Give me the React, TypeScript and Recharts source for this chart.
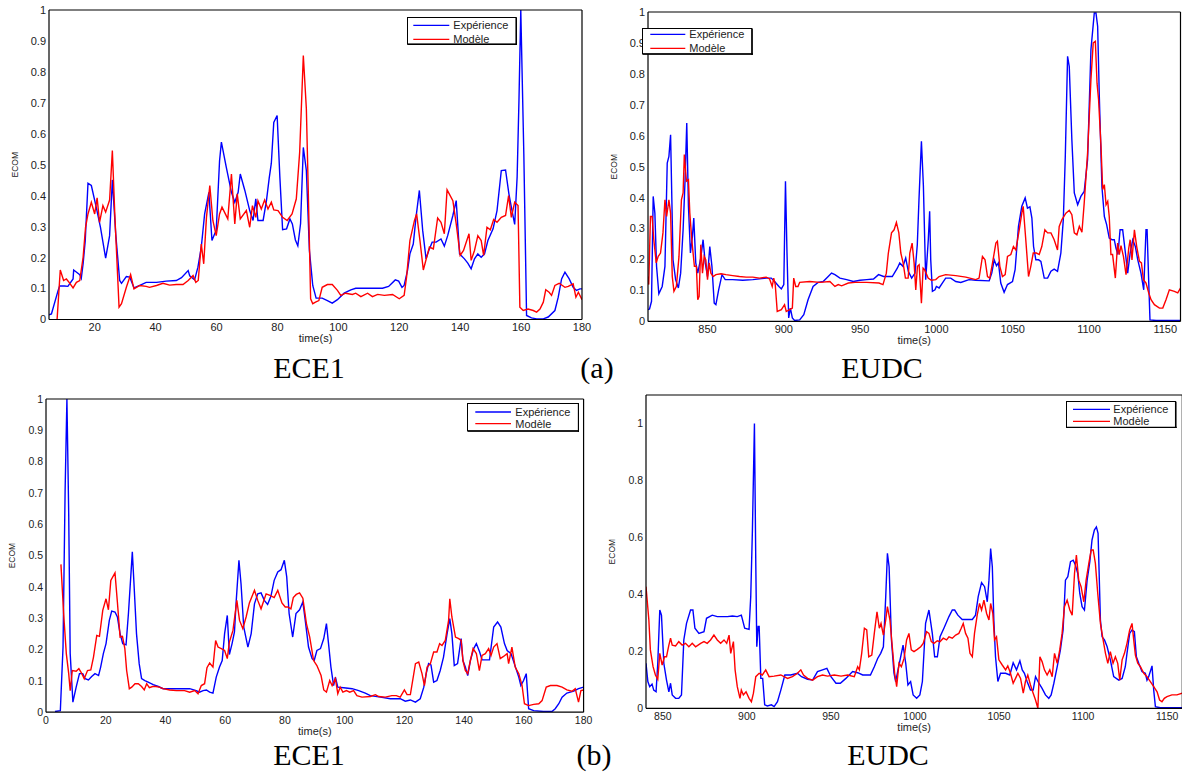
import React from 'react';
import { LineChart, Line, XAxis, YAxis, Legend, Label } from 'recharts';

type Pt = [number, number];

// ---------- (a) ECE1 ----------
const ece1aExp: Pt[] = [[5,0.015],[5.8,0.018],[8,0.094],[8.5,0.108],[10.1,0.108],[11.2,0.107],[12.9,0.131],[13.1,0.16],[15.1,0.145],[15.6,0.133],[16.2,0.18],[16.9,0.255],[17.8,0.44],[18.9,0.433],[20.5,0.363],[21.9,0.298],[23.6,0.198],[24.9,0.271],[25.8,0.451],[26.9,0.277],[28.2,0.126],[28.8,0.117],[30.4,0.139],[31.5,0.137],[32.9,0.102],[34.8,0.11],[36.9,0.12],[40.3,0.12],[43.5,0.124],[46.8,0.126],[48.5,0.135],[50.7,0.158],[51.2,0.141],[52.8,0.128],[53.9,0.169],[55,0.234],[56.1,0.341],[57.5,0.411],[58.5,0.255],[59.4,0.277],[59.9,0.287],[61,0.513],[61.6,0.573],[63.2,0.492],[64.9,0.411],[66,0.379],[67.1,0.411],[67.8,0.47],[69.3,0.417],[70.9,0.352],[72,0.32],[72.9,0.39],[73.6,0.32],[75.3,0.32],[76.4,0.384],[77.3,0.457],[78,0.505],[78.8,0.637],[79.9,0.659],[80.8,0.46],[81.7,0.29],[83,0.293],[84.1,0.325],[84.9,0.309],[85.9,0.257],[86.7,0.238],[87.6,0.31],[88.5,0.556],[89.5,0.481],[90.5,0.223],[91.6,0.11],[92.7,0.069],[94.7,0.069],[96.4,0.061],[98,0.053],[99.7,0.064],[101.9,0.085],[104.1,0.096],[105.7,0.101],[114.5,0.101],[116.5,0.107],[118.7,0.128],[119.8,0.124],[120.9,0.104],[121.6,0.11],[122.7,0.158],[123.5,0.212],[124.6,0.244],[125.5,0.33],[126.6,0.417],[127.7,0.287],[128.8,0.196],[129.7,0.223],[130.8,0.25],[132.1,0.25],[133.7,0.26],[134.8,0.237],[135.9,0.271],[137.6,0.336],[138.7,0.384],[139.8,0.212],[141.4,0.196],[142.5,0.182],[143.6,0.164],[144.7,0.196],[145.8,0.212],[146.9,0.201],[148,0.212],[149.1,0.255],[150.8,0.293],[152.1,0.352],[153.5,0.481],[154.9,0.483],[156,0.406],[156.8,0.363],[157.9,0.307],[158.7,0.46],[159.3,0.707],[159.9,1.0],[160.9,0.535],[161.8,0.013],[163.4,0.005],[165.1,0.002],[167.3,0.002],[168.9,0.008],[171.1,0.029],[172.2,0.072],[173.3,0.131],[174.4,0.153],[175.8,0.131],[177.1,0.104],[178.2,0.094],[179.3,0.099],[180,0.099]];
const ece1aMod: Pt[] = [[7,-0.1],[8.7,0.16],[9.8,0.126],[10.7,0.131],[11.6,0.12],[12.9,0.102],[14,0.12],[15.1,0.126],[16.2,0.201],[17,0.298],[17.8,0.341],[18.9,0.379],[20,0.341],[20.8,0.393],[21.6,0.314],[22.7,0.368],[23.6,0.347],[24.9,0.386],[25.8,0.546],[26.6,0.341],[27.3,0.191],[28,0.04],[28.8,0.051],[30.4,0.104],[31.8,0.145],[32.9,0.099],[34.8,0.11],[36.9,0.107],[38,0.104],[40.3,0.11],[42.4,0.117],[44.6,0.111],[46.8,0.113],[49,0.113],[50.7,0.126],[52.3,0.142],[53.2,0.12],[54,0.126],[55,0.244],[55.8,0.18],[56.7,0.33],[57.8,0.433],[58.8,0.32],[59.9,0.271],[61,0.341],[61.8,0.363],[63.7,0.325],[64.9,0.47],[66,0.309],[66.8,0.406],[67.8,0.325],[69.8,0.352],[70.9,0.298],[71.8,0.368],[72.9,0.33],[73.6,0.384],[74.7,0.357],[75.8,0.386],[76.9,0.357],[78,0.379],[78.8,0.354],[80.2,0.352],[81.7,0.33],[83.2,0.32],[84.8,0.341],[86.2,0.39],[87.3,0.54],[88.5,0.853],[89.5,0.68],[90.1,0.427],[90.9,0.067],[91.6,0.051],[92.5,0.056],[93.6,0.061],[94.7,0.104],[96.4,0.113],[98,0.113],[99.7,0.094],[100.8,0.078],[102.4,0.085],[104.6,0.081],[105.7,0.085],[107.4,0.074],[109.6,0.085],[111.2,0.074],[112.9,0.081],[115.1,0.078],[117.8,0.081],[120,0.067],[121.6,0.078],[122.4,0.137],[123.5,0.255],[125,0.32],[125.7,0.341],[126.8,0.255],[127.9,0.16],[129,0.201],[129.9,0.234],[131.2,0.228],[132.6,0.328],[133.7,0.314],[134.8,0.277],[135.7,0.419],[137.6,0.384],[138.7,0.309],[140,0.207],[141.1,0.223],[142.9,0.277],[143.6,0.191],[144.7,0.223],[145.8,0.271],[146.9,0.255],[147.7,0.207],[148.8,0.298],[149.9,0.29],[151,0.323],[152.1,0.314],[153.5,0.33],[154.9,0.336],[155.9,0.4],[156.8,0.33],[157.9,0.379],[159,0.368],[159.6,0.04],[160.7,0.029],[162.3,0.034],[164,0.029],[165.1,0.024],[166.2,0.034],[167.3,0.056],[168.1,0.096],[169.2,0.088],[170,0.078],[171.1,0.11],[172.5,0.117],[174.4,0.104],[175.5,0.107],[177.1,0.115],[178,0.072],[178.8,0.088],[180,0.064]];

// ---------- (a) EUDC ----------
const eudcaExp: Pt[] = [[811,0.038],[812,0.04],[813.3,0.065],[814.4,0.404],[815.5,0.35],[816.6,0.178],[818.1,0.089],[820.3,0.113],[822.1,0.178],[823.6,0.512],[824.7,0.533],[825.8,0.603],[827.4,0.199],[829.1,0.135],[830.9,0.108],[832.4,0.156],[834,0.296],[835.3,0.458],[836.4,0.641],[837.5,0.372],[838.8,0.221],[840.1,0.275],[841,0.334],[842.3,0.189],[843.6,0.156],[845.6,0.205],[847.1,0.264],[848.5,0.189],[850,0.145],[851.5,0.242],[852.9,0.178],[854.4,0.059],[855.5,0.054],[857.3,0.102],[859.5,0.151],[861.6,0.135],[866.5,0.135],[873.1,0.133],[879.7,0.135],[888.5,0.14],[891.8,0.14],[894,0.129],[896.8,0.113],[898.4,0.105],[900,0.119],[901.1,0.453],[902.1,0.221],[903.2,0.011],[904.3,0.043],[905.6,0.011],[907.1,0.003],[910.4,0.005],[913.1,0.022],[915.9,0.07],[919.2,0.113],[922.5,0.126],[925.8,0.129],[929.1,0.145],[931.3,0.156],[933.5,0.151],[936.8,0.14],[941.2,0.135],[945.6,0.129],[950,0.133],[954.4,0.135],[958.8,0.137],[962.1,0.151],[965.4,0.145],[971.1,0.145],[974.4,0.172],[976,0.189],[978.1,0.178],[979.9,0.205],[981.6,0.162],[983.8,0.14],[986,0.156],[987.5,0.248],[988.6,0.393],[990.2,0.582],[991.5,0.437],[993,0.135],[994.7,0.264],[995.6,0.356],[996.3,0.199],[997.4,0.097],[999.1,0.102],[1000,0.113],[1001.8,0.108],[1003.9,0.124],[1006.1,0.14],[1009.4,0.14],[1012.7,0.129],[1016,0.126],[1021.4,0.135],[1025.8,0.133],[1034.6,0.131],[1036.3,0.156],[1037.9,0.199],[1039.4,0.18],[1040.7,0.189],[1042.2,0.124],[1044.4,0.094],[1046.6,0.119],[1049.9,0.129],[1051.6,0.167],[1053.8,0.307],[1056,0.372],[1058.2,0.399],[1059.7,0.366],[1061.3,0.37],[1062.6,0.334],[1063.7,0.242],[1065.2,0.199],[1067,0.199],[1068.5,0.194],[1070.7,0.14],[1072.9,0.14],[1075.1,0.162],[1077.2,0.169],[1079.4,0.162],[1081.6,0.221],[1083.2,0.329],[1084.5,0.533],[1086,0.857],[1087.1,0.824],[1088.8,0.587],[1090.4,0.415],[1092.6,0.377],[1094.7,0.404],[1096.9,0.42],[1099.1,0.523],[1101.3,0.878],[1103.5,0.997],[1104.6,0.997],[1105.7,0.954],[1106.8,0.727],[1108.5,0.436],[1110.1,0.339],[1111.6,0.313],[1113.3,0.269],[1115.1,0.264],[1116.6,0.264],[1117.7,0.237],[1119,0.216],[1120.4,0.296],[1122.1,0.296],[1123.9,0.221],[1125.4,0.156],[1127,0.221],[1128.7,0.264],[1130.4,0.242],[1132,0.199],[1134.1,0.156],[1135.9,0.102],[1137.4,0.296],[1138.1,0.296],[1139.2,0.124],[1140,0.005],[1144,0.003],[1160,0.003]];
const eudcaMod: Pt[] = [[811,0.145],[811.5,0.119],[812.6,0.339],[813.7,0.339],[814.8,0.264],[816.4,0.189],[817.7,0.21],[819.2,0.221],[820.8,0.286],[822.1,0.393],[823.2,0.339],[824.7,0.393],[825.8,0.35],[826.9,0.145],[828,0.097],[829.6,0.113],[831.3,0.21],[832.9,0.393],[834,0.415],[834.8,0.539],[836.2,0.453],[837.5,0.458],[838.4,0.35],[839.7,0.264],[841.4,0.178],[842.7,0.178],[843.6,0.07],[844.5,0.081],[845.6,0.248],[846.7,0.156],[847.8,0.21],[848.9,0.199],[850,0.135],[851.1,0.189],[852.2,0.156],[853.7,0.145],[855.5,0.151],[858.8,0.154],[862.1,0.151],[866.5,0.148],[870.9,0.145],[875.3,0.143],[879.7,0.143],[884.1,0.14],[888.5,0.143],[890.7,0.137],[892.4,0.113],[893.4,0.14],[894.4,0.119],[895.7,0.032],[898.4,0.038],[900.5,0.054],[901.6,0.032],[903.8,0.038],[905.6,0.043],[906.5,0.14],[907.8,0.113],[909.3,0.113],[910.4,0.126],[917,0.129],[923.6,0.126],[930.2,0.129],[933.5,0.113],[935.7,0.119],[937.9,0.115],[942.3,0.124],[946.7,0.126],[954.4,0.126],[962.4,0.124],[965,0.119],[967.2,0.156],[968.5,0.22],[970.6,0.286],[972.3,0.296],[973.8,0.32],[975.4,0.286],[976.7,0.221],[978.2,0.189],[979.7,0.14],[981.5,0.14],[982.6,0.221],[984.1,0.253],[985.4,0.189],[986.5,0.102],[987.6,0.178],[988.7,0.183],[990.2,0.059],[991.3,0.172],[992.3,0.167],[994.6,0.14],[996.7,0.133],[999.6,0.135],[1001.8,0.145],[1006.1,0.151],[1012.7,0.148],[1019.3,0.143],[1025.8,0.135],[1028,0.14],[1030.2,0.21],[1031.9,0.199],[1033.5,0.145],[1035,0.14],[1036.8,0.189],[1039,0.253],[1040,0.259],[1041.6,0.178],[1043.3,0.145],[1045.1,0.151],[1046.6,0.21],[1048.8,0.216],[1050.5,0.242],[1052.1,0.231],[1054.3,0.296],[1056,0.35],[1056.9,0.372],[1058.6,0.264],[1060.4,0.145],[1061.9,0.178],[1063.5,0.221],[1065.6,0.221],[1067.4,0.216],[1069.1,0.242],[1071.1,0.296],[1072.9,0.286],[1075.1,0.286],[1077.2,0.264],[1079.4,0.231],[1080.5,0.307],[1082.3,0.329],[1084.9,0.35],[1087.1,0.359],[1088.8,0.345],[1090.4,0.286],[1092.1,0.28],[1093.7,0.307],[1095.4,0.288],[1096.9,0.383],[1099.1,0.544],[1101.3,0.781],[1102.8,0.9],[1104.2,0.905],[1105.3,0.77],[1106.3,0.717],[1107.9,0.566],[1109,0.426],[1110.1,0.442],[1111.2,0.377],[1112.3,0.388],[1113.3,0.339],[1114.4,0.216],[1115.5,0.216],[1117.3,0.14],[1118.8,0.253],[1119.9,0.216],[1121,0.245],[1122.6,0.21],[1124.3,0.151],[1126.1,0.237],[1127,0.264],[1128.2,0.199],[1129.8,0.296],[1131.3,0.242],[1133.1,0.194],[1134.4,0.189],[1135.7,0.135],[1137.4,0.124],[1139.2,0.092],[1140.7,0.07],[1142.9,0.054],[1146.2,0.043],[1148.4,0.043],[1150.5,0.07],[1152.7,0.102],[1156,0.097],[1158.2,0.092],[1160,0.108]];

// ---------- (b) ECE1 ----------
const ece1bExp: Pt[] = [[3,0.002],[4.8,0.005],[5.7,0.208],[6.4,0.709],[7,1.0],[7.6,0.634],[8.1,0.187],[9,0.032],[10.1,0.08],[11.2,0.123],[12.3,0.123],[13.1,0.107],[14.2,0.103],[15.3,0.114],[16.4,0.123],[17.6,0.117],[18.3,0.144],[19.2,0.187],[20.1,0.219],[21.2,0.293],[22,0.323],[23.1,0.32],[23.9,0.304],[24.8,0.251],[25.7,0.219],[26.8,0.215],[27.6,0.315],[28.3,0.421],[28.9,0.512],[29.4,0.421],[30.3,0.251],[31.2,0.155],[32,0.107],[33.1,0.101],[34.2,0.096],[35.9,0.088],[37.6,0.082],[39.2,0.075],[41.4,0.075],[44.8,0.075],[48.1,0.075],[50.3,0.069],[51.4,0.064],[52.6,0.069],[53.7,0.071],[54.8,0.064],[55.9,0.061],[57,0.112],[58.1,0.144],[59,0.165],[59.8,0.251],[60.7,0.309],[61.4,0.184],[62.3,0.219],[63.1,0.256],[63.7,0.357],[64.6,0.485],[65.3,0.41],[66.2,0.272],[67.6,0.208],[68.7,0.251],[69.8,0.346],[70.9,0.378],[72,0.381],[73.1,0.357],[74.2,0.344],[75.3,0.37],[76.4,0.421],[77.6,0.448],[78.7,0.455],[79.8,0.485],[80.6,0.432],[81.4,0.315],[82.6,0.24],[83.7,0.315],[84.9,0.327],[86,0.352],[86.8,0.293],[87.9,0.208],[89.1,0.171],[89.8,0.165],[90.7,0.197],[91.9,0.203],[93,0.235],[93.9,0.283],[94.6,0.219],[95.4,0.144],[96.3,0.085],[96.9,0.112],[97.7,0.08],[99.7,0.078],[102.5,0.075],[104.7,0.069],[106.9,0.061],[108.6,0.053],[112,0.048],[115.3,0.043],[118.6,0.043],[120.3,0.035],[122,0.039],[123.7,0.032],[125.3,0.043],[126.5,0.08],[127.3,0.123],[128.1,0.155],[128.9,0.151],[129.8,0.096],[130.9,0.101],[132,0.133],[133.1,0.176],[134.3,0.251],[135.2,0.299],[135.9,0.251],[136.7,0.149],[137.8,0.155],[139,0.235],[139.6,0.165],[140.4,0.144],[141.2,0.117],[142.1,0.165],[143.2,0.203],[144.1,0.219],[145.2,0.192],[146,0.167],[148.5,0.167],[149.9,0.272],[151.2,0.288],[152.3,0.272],[153.5,0.219],[154.4,0.197],[155.7,0.187],[156.8,0.155],[158.3,0.112],[159,0.085],[159.9,0.101],[160.8,0.123],[161.6,0.011],[163.3,0.005],[166.6,0.002],[169.4,0.002],[170.5,0.011],[171.7,0.027],[172.8,0.048],[174.4,0.061],[176.7,0.067],[178.3,0.075],[180,0.08]];
const ece1bMod: Pt[] = [[5,0.472],[5.9,0.315],[6.8,0.187],[7.6,0.123],[8.1,0.069],[8.8,0.133],[10.1,0.131],[11,0.139],[12,0.123],[12.8,0.107],[13.9,0.133],[15,0.135],[15.9,0.176],[17,0.245],[17.9,0.242],[19,0.325],[20.1,0.362],[20.9,0.327],[21.7,0.421],[23.1,0.445],[23.9,0.352],[24.8,0.24],[25.6,0.242],[26.4,0.203],[27,0.133],[27.9,0.075],[28.7,0.08],[29.8,0.091],[30.9,0.091],[32,0.082],[32.9,0.071],[33.7,0.091],[34.6,0.078],[35.7,0.082],[36.8,0.082],[37.9,0.08],[39.2,0.075],[41.4,0.071],[43.7,0.069],[46.4,0.069],[48.1,0.064],[49.8,0.069],[50.9,0.059],[52,0.085],[53.1,0.091],[53.9,0.142],[54.8,0.157],[55.9,0.144],[56.8,0.229],[57.6,0.208],[58.7,0.203],[59.8,0.197],[60.7,0.171],[61.4,0.224],[62.6,0.261],[63.9,0.357],[64.8,0.293],[65.9,0.267],[67,0.304],[68.1,0.349],[69.8,0.389],[70.9,0.357],[72,0.33],[73.7,0.378],[75,0.373],[76.4,0.366],[77.6,0.389],[79,0.349],[80.1,0.336],[80.9,0.336],[82,0.33],[82.8,0.366],[83.8,0.376],[84.9,0.381],[86,0.364],[87.2,0.283],[88.3,0.24],[89.6,0.165],[90.7,0.149],[92.1,0.117],[93,0.071],[93.9,0.064],[95,0.101],[95.8,0.085],[96.9,0.107],[97.7,0.059],[98.5,0.08],[99.4,0.064],[100.6,0.069],[101.7,0.064],[103,0.069],[104.1,0.053],[105.8,0.048],[108.6,0.05],[110.3,0.056],[111.4,0.05],[113.6,0.048],[115.8,0.053],[117.3,0.053],[118.6,0.048],[120,0.071],[120.9,0.056],[122,0.056],[123.7,0.155],[124.8,0.16],[125.9,0.123],[126.7,0.085],[127.6,0.144],[128.7,0.155],[129.8,0.192],[130.9,0.192],[131.8,0.219],[132.6,0.213],[133.7,0.229],[134.8,0.293],[135.2,0.362],[135.9,0.304],[137.1,0.24],[138.2,0.235],[139,0.229],[139.6,0.165],[140.4,0.133],[141.2,0.123],[142.1,0.165],[143,0.203],[144.1,0.187],[145.1,0.133],[146,0.181],[147.1,0.187],[148.2,0.203],[149,0.181],[149.9,0.208],[151,0.219],[152.1,0.171],[153.2,0.178],[154.4,0.187],[154.9,0.155],[156,0.208],[157.1,0.144],[158.3,0.123],[159.4,0.085],[160.2,0.027],[161.6,0.021],[163.3,0.025],[165,0.027],[166.1,0.037],[167.5,0.08],[168.9,0.085],[171.1,0.085],[172.8,0.08],[174.4,0.071],[176.1,0.067],[177.2,0.075],[178.3,0.032],[179.1,0.069],[180,0.071]];

// ---------- (b) EUDC ----------
const eudcbExp: Pt[] = [[840,0.158],[841.1,0.094],[842.2,0.076],[843.6,0.085],[844.6,0.064],[846,0.058],[847,0.158],[848.2,0.345],[849.2,0.327],[850.6,0.158],[852.2,0.099],[853.6,0.058],[854.6,0.088],[855.6,0.047],[857.6,0.035],[859.5,0.035],[861.1,0.047],[862.5,0.24],[864.1,0.298],[866.5,0.345],[867.9,0.345],[869.1,0.281],[871.5,0.263],[874.5,0.269],[876,0.316],[879.4,0.327],[882.4,0.322],[885.4,0.322],[888.4,0.322],[891.4,0.324],[894.3,0.322],[896.7,0.327],[898.7,0.281],[901.3,0.277],[902.3,0.392],[903.3,0.626],[904.5,1.0],[905.3,0.509],[905.9,0.216],[906.7,0.287],[907.3,0.287],[908.3,0.105],[909.4,0.105],[910.6,0.012],[912.2,0.008],[914.6,0.012],[916.2,0.006],[918.2,0.023],[920.2,0.064],[922.6,0.117],[926.1,0.117],[930.1,0.123],[932.5,0.111],[936.1,0.102],[939.1,0.099],[942,0.129],[945,0.135],[947.6,0.14],[950,0.111],[953,0.088],[955.6,0.088],[958.9,0.105],[962.9,0.129],[965.9,0.125],[968.9,0.117],[973.5,0.117],[975.8,0.146],[977.8,0.175],[979.6,0.193],[981.2,0.216],[982.6,0.392],[983.6,0.544],[984.6,0.497],[986,0.24],[987.5,0.123],[988.5,0.094],[989.9,0.135],[991.5,0.181],[992.9,0.222],[994.5,0.158],[995.8,0.082],[997.4,0.094],[998.9,0.047],[1001,0.035],[1002.9,0.047],[1004.4,0.094],[1006.3,0.298],[1008.3,0.345],[1010.3,0.263],[1011.7,0.181],[1013.3,0.181],[1014.9,0.251],[1017.2,0.281],[1020.2,0.322],[1022.2,0.345],[1023.6,0.345],[1025.5,0.327],[1028.1,0.312],[1034.1,0.312],[1036,0.327],[1037.6,0.392],[1039.6,0.441],[1041.4,0.427],[1043,0.374],[1044,0.45],[1045,0.561],[1046,0.497],[1046.9,0.31],[1047.9,0.181],[1049.3,0.094],[1050.9,0.123],[1053.9,0.123],[1056.4,0.117],[1058.4,0.16],[1060.4,0.135],[1062.4,0.167],[1063.8,0.135],[1065.1,0.123],[1066.7,0.094],[1068.7,0.064],[1070.3,0.064],[1071.7,0.111],[1073.7,0.088],[1075.6,0.07],[1077.6,0.047],[1079.6,0.035],[1081,0.047],[1082.6,0.088],[1084.6,0.146],[1086.5,0.205],[1088.1,0.275],[1089.5,0.45],[1090.9,0.462],[1092.5,0.515],[1094.1,0.52],[1095.4,0.503],[1096.8,0.474],[1098,0.404],[1099.4,0.357],[1100.8,0.345],[1102.4,0.45],[1104,0.515],[1105.3,0.591],[1106.7,0.626],[1107.9,0.637],[1108.9,0.614],[1110.3,0.31],[1111.3,0.251],[1112.7,0.24],[1114.3,0.216],[1116.2,0.17],[1118.2,0.111],[1121.2,0.099],[1123.2,0.105],[1125.1,0.146],[1126.1,0.193],[1127.7,0.263],[1129.1,0.275],[1130.5,0.269],[1131.7,0.181],[1133.1,0.158],[1135,0.129],[1137,0.123],[1138,0.099],[1139,0.111],[1141,0.149],[1142,0.064],[1143,0.006],[1145.9,0.002],[1159,0.002]];
const eudcbMod: Pt[] = [[840,0.427],[841.7,0.31],[842.6,0.205],[844.2,0.146],[845.6,0.117],[847,0.102],[848.2,0.193],[849.6,0.152],[851,0.181],[852.2,0.181],[853.6,0.222],[854.6,0.246],[855.6,0.222],[857.6,0.219],[859.5,0.234],[861.5,0.222],[863.5,0.228],[865.5,0.216],[867.5,0.228],[869.5,0.216],[872.5,0.228],[874.5,0.234],[876.4,0.228],[878.4,0.24],[880.4,0.257],[882.4,0.24],[884.4,0.228],[886.4,0.24],[888,0.228],[889.4,0.257],[890.4,0.193],[892,0.234],[893,0.135],[894.3,0.076],[895.9,0.035],[896.7,0.064],[897.9,0.047],[899.5,0.058],[901.3,0.035],[902.7,0.023],[903.9,0.053],[905.3,0.111],[907.3,0.123],[909.2,0.117],[911.2,0.135],[913.2,0.111],[916.2,0.113],[920.2,0.117],[924.2,0.105],[927.1,0.111],[930.1,0.123],[932.1,0.135],[933.7,0.117],[936.1,0.105],[939.1,0.099],[942,0.111],[945,0.117],[948,0.113],[952,0.117],[956,0.113],[959.9,0.117],[963.9,0.111],[965.9,0.146],[966.9,0.135],[968.3,0.193],[969.9,0.281],[971.3,0.275],[972.5,0.181],[974.3,0.187],[975.8,0.263],[977.4,0.339],[978.8,0.281],[979.8,0.298],[981.2,0.257],[982.6,0.31],[983.6,0.357],[985.1,0.31],[986.5,0.216],[987.9,0.123],[989.1,0.076],[990.5,0.158],[991.9,0.146],[993.5,0.175],[995,0.24],[996.4,0.263],[997.8,0.205],[999.4,0.199],[1001.4,0.207],[1003.4,0.216],[1004.9,0.228],[1006.9,0.269],[1008.3,0.263],[1009.7,0.234],[1011.3,0.228],[1013.3,0.237],[1014.9,0.234],[1016.8,0.246],[1018.8,0.24],[1020.2,0.251],[1022.2,0.246],[1024.2,0.257],[1026.1,0.263],[1027.5,0.281],[1028.7,0.298],[1030.1,0.263],[1031.5,0.246],[1032.7,0.193],[1034.1,0.181],[1035.4,0.263],[1037,0.327],[1038.4,0.368],[1039.6,0.345],[1041,0.38],[1042.6,0.333],[1044,0.31],[1045,0.368],[1046.3,0.333],[1047.3,0.24],[1048.5,0.251],[1049.9,0.17],[1051.9,0.152],[1053.9,0.135],[1055.2,0.149],[1056.8,0.123],[1058.4,0.088],[1059.8,0.105],[1061.2,0.123],[1062.8,0.105],[1064.4,0.053],[1065.7,0.094],[1067.1,0.117],[1068.7,0.082],[1070.3,0.053],[1071.7,0.029],[1073.1,0.0],[1074.3,0.181],[1075.6,0.164],[1077,0.135],[1078.6,0.117],[1080.2,0.135],[1081.6,0.111],[1083,0.193],[1084.6,0.158],[1086.1,0.205],[1087.5,0.263],[1088.9,0.357],[1090.5,0.38],[1092.1,0.345],[1093.5,0.327],[1094.9,0.474],[1096,0.538],[1097.4,0.45],[1098.8,0.427],[1100.4,0.374],[1101.8,0.45],[1103.4,0.509],[1104.8,0.556],[1106,0.556],[1107.3,0.509],[1108.7,0.404],[1110.3,0.298],[1111.9,0.24],[1113.3,0.193],[1114.7,0.158],[1116.2,0.199],[1117.8,0.158],[1119.2,0.181],[1120.6,0.158],[1121.8,0.099],[1123.2,0.17],[1124.6,0.193],[1126.1,0.228],[1127.7,0.275],[1129.1,0.298],[1130.1,0.24],[1131.1,0.187],[1132.5,0.158],[1134.1,0.146],[1136.1,0.123],[1138,0.111],[1140,0.094],[1142,0.076],[1144,0.058],[1145.5,0.029],[1146.9,0.023],[1148.3,0.035],[1149.9,0.041],[1152.8,0.047],[1155.8,0.047],[1159,0.053]];

// ---------- ticks & labels ----------
const ece1aTicksX = [20, 40, 60, 80, 100, 120, 140, 160, 180];
const ece1bTicksX = [0, 20, 40, 60, 80, 100, 120, 140, 160, 180];
const eudcTicksX = [850, 900, 950, 1000, 1050, 1100, 1150];
const ticksY01 = [0, 0.1, 0.2, 0.3, 0.4, 0.5, 0.6, 0.7, 0.8, 0.9, 1];
const ticksY02 = [0, 0.2, 0.4, 0.6, 0.8, 1];
const seriesNames = ['Expérience', 'Modèle'];
const captions = ['ECE1', '(a)', 'EUDC', 'ECE1', '(b)', 'EUDC'];

const FONT = '"Liberation Sans", Arial, Helvetica, sans-serif';
const SERIF = '"Liberation Serif", "Times New Roman", Times, serif';
const ML = 60, MT = 14, MR = 14, MB = 44;

interface LegendGeom { x: number; y: number; w: number; h: number; lx1: number; lx2: number; tx: number; y1: number; y2: number; }
interface PanelCfg {
  left: number; top: number; width: number; height: number;
  xDomain: [number, number]; yDomain: [number, number];
  xTicks: number[]; yTicks: number[];
  exp: Pt[]; mod: Pt[];
  legend: LegendGeom; tickFont: number;
}

const fmtY = (v: number) => (v === 0 ? '0' : v === 1 ? '1' : String(v));

function LegendBox({ g }: { g: LegendGeom }) {
  return (
    <svg width={g.w} height={g.h} style={{ display: 'block' }}>
      <rect x={0.5} y={0.5} width={g.w - 1.5} height={g.h - 1.5} fill="#fff" stroke="#000" strokeWidth={1} />
      <line x1={g.w - 1} x2={g.w - 1} y1={1} y2={g.h} stroke="#000" strokeWidth={1.5} />
      <line x1={1} x2={g.w} y1={g.h - 1} y2={g.h - 1} stroke="#000" strokeWidth={1.5} />
      <line x1={g.lx1} x2={g.lx2} y1={g.y1} y2={g.y1} stroke="#0000ff" strokeWidth={1.3} />
      <line x1={g.lx1} x2={g.lx2} y1={g.y2} y2={g.y2} stroke="#ff0000" strokeWidth={1.3} />
      <text x={g.tx} y={g.y1} dominantBaseline="central" fontSize={11} fontFamily={FONT} fill="#222">{seriesNames[0]}</text>
      <text x={g.tx} y={g.y2} dominantBaseline="central" fontSize={11} fontFamily={FONT} fill="#222">{seriesNames[1]}</text>
    </svg>
  );
}

function Panel({ c }: { c: PanelCfg }) {
  const W = c.width + ML + MR;
  const H = c.height + MT + MB;
  const tickStyle = { fontSize: c.tickFont, fill: '#222', fontFamily: FONT };
  const expData = c.exp.map(([t, v]) => ({ t, v }));
  const modData = c.mod.map(([t, v]) => ({ t, v }));
  return (
    <div style={{ position: 'absolute', left: c.left - ML, top: c.top - MT, width: W, height: H }}>
      <LineChart width={W} height={H} margin={{ top: MT, right: MR, bottom: 0, left: 0 }}>
        <XAxis xAxisId="b" orientation="bottom" type="number" dataKey="t" domain={c.xDomain} ticks={c.xTicks}
          interval={0} allowDataOverflow height={MB} tickLine={false} tickSize={0} tickMargin={4}
          axisLine={{ stroke: '#000', strokeWidth: 1.2 }} tick={tickStyle}>
          <Label content={(p: any) => {
            const vb = p.viewBox;
            const x = vb.x + vb.width / 2;
            return <text x={x} y={vb.y + 18.5} textAnchor="middle" dominantBaseline="central" fontSize={11} fontFamily={FONT} fill="#222">time(s)</text>;
          }} />
        </XAxis>
        <XAxis xAxisId="bm" orientation="bottom" mirror type="number" dataKey="t" domain={c.xDomain} ticks={c.xTicks}
          interval={0} allowDataOverflow tick={false} tickLine={{ stroke: '#000' }} tickSize={4} axisLine={false} />
        <XAxis xAxisId="tm" orientation="top" mirror type="number" dataKey="t" domain={c.xDomain} ticks={c.xTicks}
          interval={0} allowDataOverflow tick={false} tickLine={{ stroke: '#000' }} tickSize={4}
          axisLine={{ stroke: '#000', strokeWidth: 1.2 }} />
        <YAxis yAxisId="l" orientation="left" type="number" domain={c.yDomain} ticks={c.yTicks} interval={0}
          allowDataOverflow width={ML} tickLine={false} tickSize={0} tickMargin={3}
          axisLine={{ stroke: '#000', strokeWidth: 1.2 }} tick={tickStyle} tickFormatter={fmtY}>
          <Label content={(p: any) => {
            const vb = p.viewBox;
            const x = vb.x + vb.width - 34;
            const y = vb.y + vb.height / 2;
            return <text x={x} y={y} transform={`rotate(-90 ${x} ${y})`} textAnchor="middle" dominantBaseline="central" fontSize={8.5} fontFamily={FONT} fill="#222">ECOM</text>;
          }} />
        </YAxis>
        <YAxis yAxisId="lm" orientation="left" mirror type="number" domain={c.yDomain} ticks={c.yTicks} interval={0}
          allowDataOverflow tick={false} tickLine={{ stroke: '#000' }} tickSize={4} axisLine={false} />
        <YAxis yAxisId="rm" orientation="right" mirror type="number" domain={c.yDomain} ticks={c.yTicks} interval={0}
          allowDataOverflow tick={false} tickLine={{ stroke: '#000' }} tickSize={4}
          axisLine={{ stroke: '#000', strokeWidth: 1.2 }} />
        <Legend layout="vertical" align="center" verticalAlign="middle"
          wrapperStyle={{ left: ML + c.legend.x, top: MT + c.legend.y, width: c.legend.w, height: c.legend.h }}
          content={() => <LegendBox g={c.legend} />} />
        <Line xAxisId="b" yAxisId="l" data={expData} dataKey="v" name={seriesNames[0]} type="linear"
          stroke="#0000ff" strokeWidth={1.4} dot={false} activeDot={false} isAnimationActive={false} />
        <Line xAxisId="b" yAxisId="l" data={modData} dataKey="v" name={seriesNames[1]} type="linear"
          stroke="#ff0000" strokeWidth={1.4} dot={false} activeDot={false} isAnimationActive={false} />
      </LineChart>
    </div>
  );
}

const panels: PanelCfg[] = [
  {
    left: 49.3, top: 9.5, width: 533, height: 309.5, xDomain: [5, 180], yDomain: [0, 1],
    xTicks: ece1aTicksX, yTicks: ticksY01, exp: ece1aExp, mod: ece1aMod, tickFont: 11,
    legend: { x: 357.4, y: 7.2, w: 110.3, h: 28.3, lx1: 6.3, lx2: 42.3, tx: 46.3, y1: 8.3, y2: 22.3 },
  },
  {
    left: 648.3, top: 12.3, width: 532.5, height: 309.4, xDomain: [811, 1160], yDomain: [0, 1],
    xTicks: eudcTicksX, yTicks: ticksY01, exp: eudcaExp, mod: eudcaMod, tickFont: 11,
    legend: { x: -6.6, y: 15.7, w: 111, h: 27, lx1: 8.3, lx2: 43.3, tx: 47.3, y1: 6.3, y2: 20.3 },
  },
  {
    left: 45.7, top: 398.5, width: 537.6, height: 313.2, xDomain: [0, 180], yDomain: [0, 1],
    xTicks: ece1bTicksX, yTicks: ticksY01, exp: ece1bExp, mod: ece1bMod, tickFont: 10.5,
    legend: { x: 421, y: 4.4, w: 112.6, h: 29, lx1: 8.3, lx2: 44, tx: 48.3, y1: 9, y2: 20.6 },
  },
  {
    left: 645.7, top: 395, width: 536.3, height: 313.3, xDomain: [840, 1159], yDomain: [0, 1.1],
    xTicks: eudcTicksX, yTicks: ticksY02, exp: eudcbExp, mod: eudcbMod, tickFont: 10.5,
    legend: { x: 420.3, y: 5.7, w: 110.7, h: 27.6, lx1: 7, lx2: 44, tx: 47.3, y1: 8.3, y2: 20.3 },
  },
];

const captionPos: { x: number; y: number }[] = [
  { x: 309, y: 378 }, { x: 597, y: 378 }, { x: 882, y: 378 },
  { x: 309, y: 765 }, { x: 594, y: 765 }, { x: 888, y: 765 },
];

export default function App() {
  return (
    <div style={{ position: 'absolute', left: 0, top: 0, width: 1182, height: 778, background: '#fff', overflow: 'hidden' }}>
      {panels.map((c, i) => <Panel key={i} c={c} />)}
      <svg width={1182} height={778} style={{ position: 'absolute', left: 0, top: 0, pointerEvents: 'none' }}>
        {captions.map((t, i) => (
          <text key={i} x={captionPos[i].x} y={captionPos[i].y} textAnchor="middle" fontFamily={SERIF} fontSize={30} fill="#000">{t}</text>
        ))}
      </svg>
    </div>
  );
}
